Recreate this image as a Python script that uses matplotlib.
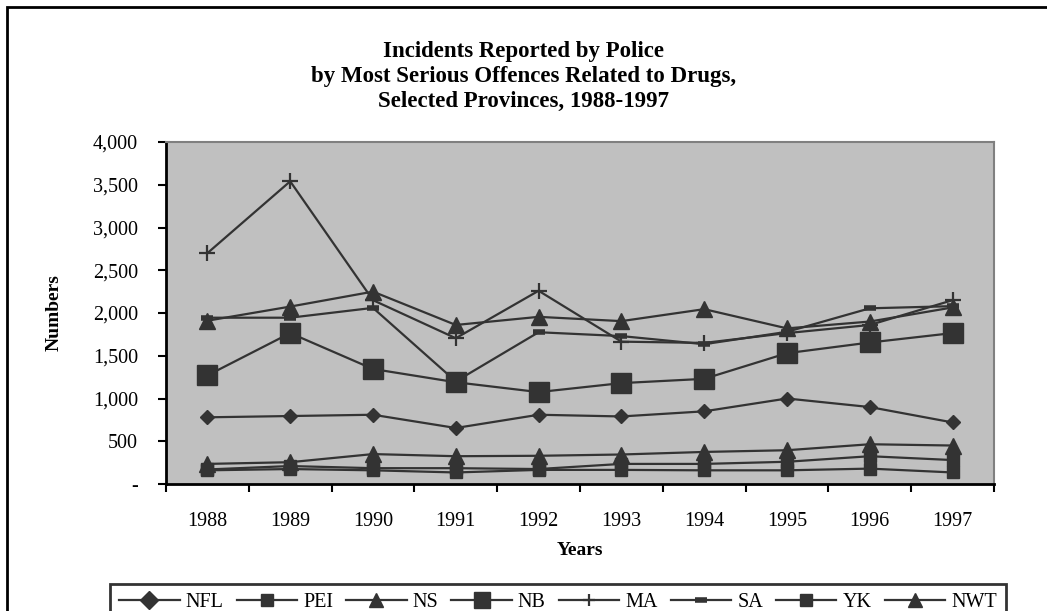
import matplotlib.pyplot as plt
from matplotlib.patches import Rectangle
from matplotlib.ticker import FixedLocator, FuncFormatter

plt.rcParams['font.family'] = ['Liberation Serif', 'DejaVu Serif']

years = ['1988', '1989', '1990', '1991', '1992', '1993', '1994', '1995', '1996', '1997']

# values
nfl = [780, 795, 810, 655, 810, 790, 850, 1000, 900, 720]
pei = [170, 210, 185, 185, 175, 235, 235, 260, 325, 280]
ns = [1910, 2075, 2250, 1860, 1955, 1905, 2045, 1820, 1900, 2065]
nb = [1270, 1765, 1345, 1190, 1075, 1180, 1230, 1530, 1655, 1765]
ma = [2700, 3540, 2150, 1705, 2260, 1665, 1650, 1765, 1860, 2150]
sa = [1945, 1945, 2060, 1200, 1775, 1730, 1635, 1780, 2055, 2080]
yk = [160, 175, 160, 135, 165, 165, 160, 160, 180, 135]
nwt = [235, 255, 350, 325, 330, 345, 375, 395, 465, 450]

series = [
    ('NFL', nfl, 'D', 7),
    ('PEI', pei, 's', 8),
    ('NS', ns, '^', 11),
    ('NB', nb, 's', 14),
    ('MA', ma, '+', 12),
    ('SA', sa, '_', 8),
    ('YK', yk, 's', 8),
    ('NWT', nwt, '^', 11),
]

dark = '#333333'

fig = plt.figure(figsize=(10.47, 6.11), dpi=100)
ax = fig.add_axes([166 / 1047, 1 - 484 / 611, (994 - 166) / 1047, (484 - 142) / 611])
ax.set_facecolor('#c0c0c0')

x = list(range(len(years)))
for name, vals, mk, ms in series:
    if mk == '+':
        ax.plot(x, vals, color=dark, lw=1.6, marker=mk, ms=ms, mew=1.6, label=name)
    elif mk == '_':
        ax.plot(x, vals, color=dark, lw=1.6, marker=mk, ms=ms, mew=4, label=name)
    else:
        ax.plot(x, vals, color=dark, lw=1.6, marker=mk, ms=ms, mfc=dark, mec=dark, label=name)

ax.set_xlim(-0.5, 9.5)
ax.set_ylim(0, 4000)

# category ticks between the years, labels in the middle
ax.xaxis.set_major_locator(FixedLocator([i - 0.5 for i in range(11)]))
ax.xaxis.set_minor_locator(FixedLocator(x))
ax.set_xticklabels([])
ax.set_xticklabels(years, minor=True)
ax.tick_params(axis='x', which='major', direction='out', length=6, width=1.5, color='black')
ax.tick_params(axis='x', which='minor', length=0, pad=20, labelsize=14.5)

ax.set_yticks(range(0, 4001, 500))
ax.yaxis.set_major_formatter(FuncFormatter(lambda v, p: '-' if v == 0 else f'{int(v):,}'))
ax.tick_params(axis='y', direction='out', length=6, width=1.5, pad=14, labelsize=14.5)

for s in ['left', 'bottom']:
    ax.spines[s].set_color('black')
    ax.spines[s].set_linewidth(2)
for s in ['top', 'right']:
    ax.spines[s].set_color('#808080')
    ax.spines[s].set_linewidth(1.5)

ax.set_xlabel('Years', fontsize=14, fontweight='bold', labelpad=8)
ax.set_ylabel('Numbers', fontsize=14, fontweight='bold', labelpad=22)

title_lines = ['Incidents Reported by Police',
               'by Most Serious Offences Related to Drugs,',
               'Selected Provinces, 1988-1997']
for i, line in enumerate(title_lines):
    fig.text(0.5, 1 - (52 + 24.5 * i) / 611, line, ha='center', va='center',
             fontsize=16.5, fontweight='bold')

leg = fig.legend(loc='upper center', bbox_to_anchor=(558 / 1047, 1 - 574 / 611), ncol=8,
                 fontsize=14.5, frameon=True, fancybox=False, handlelength=3.0,
                 handletextpad=0.3, columnspacing=0.65, borderpad=0.45)
leg.get_frame().set_edgecolor('black')
leg.get_frame().set_linewidth(2)
for h in leg.legend_handles:
    if h.get_marker() in ('D', '+'):
        h.set_markersize(9)
    elif h.get_markersize() >= 12:
        h.set_markersize(12)
    else:
        h.set_markersize(min(h.get_markersize(), 10))

# outer chart frame, runs off the bottom and right of the image
fig.patches.append(Rectangle((7 / 1047, -0.1), 1.2, 1 - 7 / 611 + 0.1,
                             transform=fig.transFigure, fill=False,
                             edgecolor='black', linewidth=2))

fig.savefig('out.png', dpi=100)
